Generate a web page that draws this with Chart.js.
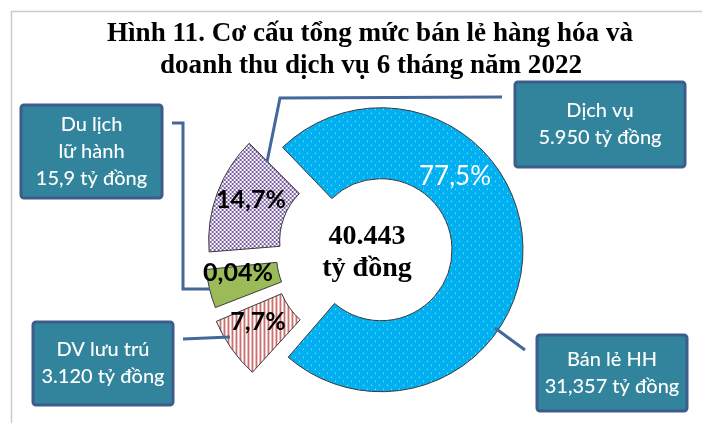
<!DOCTYPE html>
<html>
<head>
<meta charset="utf-8">
<script src="https://cdn.jsdelivr.net/npm/chart.js@4.4.1/dist/chart.umd.min.js"></script>
<style>
  html, body { margin: 0; padding: 0; background: #fff; }
  canvas { display: block; }
</style>
</head>
<body>
<canvas id="c" width="702" height="423"></canvas>
<script>
const titleLines = ["Hình 11. Cơ cấu tổng mức bán lẻ hàng hóa và", "doanh thu dịch vụ 6 tháng năm 2022"];
const segments = ["Bán lẻ HH", "DV lưu trú", "Du lịch\nlữ hành", "Dịch vụ"];
const revenue = ["31,357 tỷ đồng", "3.120 tỷ đồng", "15,9 tỷ đồng", "5.950 tỷ đồng"];
const percentLabels = ["77,5%", "7,7%", "0,04%", "14,7%"];
// slice sizes as they are drawn (the 0,04% slice is drawn bigger so it can be seen)
const sliceShare = [77.5, 7.7, 5, 14.7];
const totalText = ["40.443", "tỷ đồng"];

// fill patterns
function makePattern(w, h, paint) {
    const c = document.createElement("canvas");
    c.width = w; c.height = h;
    paint(c.getContext("2d"));
    return c.getContext("2d").createPattern(c, "repeat");
}
const bluePat = makePattern(8, 8, g => {
    g.fillStyle = "#00B0F0"; g.fillRect(0, 0, 8, 8);
    g.fillStyle = "rgba(255,255,255,0.7)";
    g.fillRect(1, 1, 1, 1); g.fillRect(5, 5, 1, 1);
});
const redPat = makePattern(4, 4, g => {
    g.fillStyle = "#fff"; g.fillRect(0, 0, 4, 4);
    g.fillStyle = "#C0504D"; g.fillRect(0, 0, 1, 4);
    g.fillStyle = "rgba(192,80,77,0.5)"; g.fillRect(1, 0, 1, 4);
});
const purplePat = makePattern(4, 4, g => {
    g.fillStyle = "#fff"; g.fillRect(0, 0, 4, 4);
    g.fillStyle = "#7A5CA4"; g.fillRect(0, 0, 2, 2); g.fillRect(2, 2, 2, 2);
});

const decor = {
    id: "decor",
    afterDraw(chart) {
        const ctx = chart.ctx;
        ctx.save();

        // frame
        ctx.strokeStyle = "#cccccc";
        ctx.lineWidth = 1.5;
        ctx.beginPath();
        ctx.moveTo(11.5, 423); ctx.lineTo(11.5, 11.5); ctx.lineTo(702, 11.5);
        ctx.stroke();

        // title
        ctx.fillStyle = "#000";
        ctx.textAlign = "center";
        ctx.textBaseline = "alphabetic";
        ctx.font = "bold 28px 'Liberation Serif'";
        ctx.fillText(titleLines[0], 370, 41, 526);
        ctx.fillText(titleLines[1], 371, 73, 422);

        // leader lines
        const leaders = [
            [[495, 328], [525, 350]],
            [[183, 339], [230, 337]],
            [[172, 123], [183, 123], [183, 289], [210, 289]],
            [[502, 97], [280, 98], [267, 162]]
        ];
        ctx.strokeStyle = "#44689A";
        ctx.lineWidth = 3;
        leaders.forEach(pts => {
            ctx.beginPath();
            pts.forEach((p, i) => i ? ctx.lineTo(p[0], p[1]) : ctx.moveTo(p[0], p[1]));
            ctx.stroke();
        });

        // boxes
        const boxes = [
            [537, 335, 150, 76],
            [33, 322, 140, 83],
            [21, 105, 141, 93],
            [515, 82, 170, 85]
        ];
        ctx.font = "500 20px Lato";
        boxes.forEach((b, i) => {
            ctx.fillStyle = "#31849B";
            ctx.strokeStyle = "#3D5C8C";
            ctx.lineWidth = 3;
            ctx.beginPath();
            ctx.roundRect(b[0], b[1], b[2], b[3], 3);
            ctx.fill(); ctx.stroke();
            const lines = segments[i].split("\n").concat(revenue[i]);
            const cy = b[1] + b[3] / 2;
            ctx.fillStyle = "#fff";
            ctx.textBaseline = "middle";
            lines.forEach((t, k) => {
                ctx.fillText(t, b[0] + b[2] / 2, cy + (k - (lines.length - 1) / 2) * 27);
            });
        });

        // percent labels
        const pos = [[455, 177], [258, 322], [238, 273], [251, 200]];
        percentLabels.forEach((t, i) => {
            ctx.font = i === 0 ? "26px Lato" : "bold 25px Lato";
            ctx.fillStyle = i === 0 ? "#fff" : "#000";
            ctx.fillText(t, pos[i][0], pos[i][1]);
        });

        // total in the hole
        ctx.fillStyle = "#000";
        ctx.textBaseline = "alphabetic";
        ctx.font = "bold 28px 'Liberation Serif'";
        ctx.fillText(totalText[0], 367, 244);
        ctx.fillText(totalText[1], 367, 276);

        ctx.restore();
    }
};

new Chart(document.getElementById("c"), {
    type: "doughnut",
    data: {
        labels: segments,
        datasets: [{
            data: sliceShare,
            backgroundColor: [bluePat, redPat, "#9BBB59", purplePat],
            borderColor: "#3a3a3a",
            borderWidth: 1,
            offset: [40, 100, 80, 104],
            hoverOffset: 0,
            clip: false
        }]
    },
    options: {
        responsive: false,
        animation: false,
        events: [],
        rotation: -44.5,
        radius: 132,
        cutout: "46.2%",
        layout: { padding: { left: 40, top: 77, right: 0, bottom: 0 } },
        plugins: {
            legend: { display: false },
            tooltip: { enabled: false }
        }
    },
    plugins: [decor]
});
</script>
</body>
</html>
